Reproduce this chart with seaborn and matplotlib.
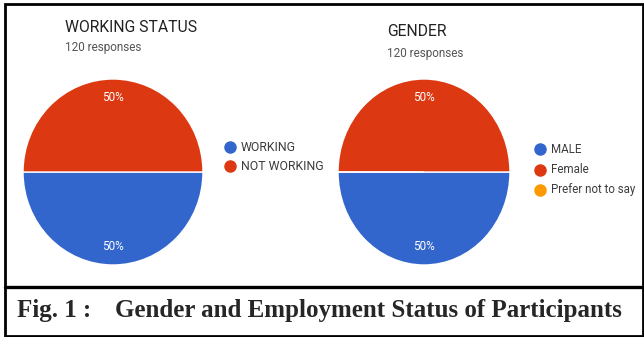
import matplotlib
matplotlib.use("Agg")
import matplotlib.pyplot as plt
from matplotlib.lines import Line2D
from matplotlib.patches import Rectangle
import seaborn as sns

# data
working_labels = ["WORKING", "NOT WORKING"]
working_values = [60, 60]
gender_labels = ["MALE", "Female", "Prefer not to say"]
gender_values = [60, 60, 0]
n_responses = 120

sns.set_style("white")
pal = sns.color_palette(["#3366CC", "#DC3912", "#FF9900"])
plt.rcParams["font.family"] = ["Roboto", "DejaVu Sans"]

W, H = 644, 337
fig = plt.figure(figsize=(W / 100, H / 100), dpi=100)


def px_axes(cx, cy, rx, ry):
    return fig.add_axes([(cx - rx) / W, 1 - (cy + ry) / H, 2 * rx / W, 2 * ry / H])


def pct(v):
    return "" if v < 0.5 else "%d%%" % round(v)


def draw_pie(cx, cy, rx, ry, values, colors):
    ax = px_axes(cx, cy, rx, ry)
    ax.pie(
        values, colors=colors, startangle=180, counterclock=True,
        autopct=pct, pctdistance=0.8, radius=1,
        wedgeprops=dict(edgecolor="white", linewidth=1),
        textprops=dict(color="white", fontsize=8.5),
    )
    ax.set_aspect("auto")
    ax.set_xlim(-1, 1)
    ax.set_ylim(-1, 1)
    ax.axis("off")
    return ax


def legend(x, y0, labels, colors, step, size):
    for i, (lab, c) in enumerate(zip(labels, colors)):
        y = y0 + i * step
        fig.add_artist(Line2D([x / W], [1 - y / H], marker="o", markersize=8,
                              color=c, linestyle="none", transform=fig.transFigure))
        fig.text((x + 11) / W, 1 - y / H, lab, fontsize=size, color="#3c3c3c",
                 va="center", ha="left")


# left chart
fig.text(65 / W, 1 - 27 / H, "WORKING STATUS", fontsize=11.3, color="#222222",
         va="center", ha="left")
fig.text(65 / W, 1 - 48 / H, "%d responses" % n_responses, fontsize=8.5,
         color="#555555", va="center", ha="left")
draw_pie(113, 172, 90, 93, working_values, pal[:2])
legend(230, 147, working_labels, pal[:2], 19, 8.8)

# right chart
fig.text(387 / W, 1 - 32 / H, "GENDER", fontsize=11.3, color="#222222",
         va="center", ha="left")
fig.text(387 / W, 1 - 54 / H, "%d responses" % n_responses, fontsize=8.5,
         color="#555555", va="center", ha="left")
draw_pie(424, 172, 86, 93, gender_values, pal[:3])
legend(540, 149, gender_labels, pal[:3], 20.5, 8.3)

# frame and caption box
fig.add_artist(Rectangle((5 / W, 1.5 / H), 638 / W, 332 / H, fill=False,
                         edgecolor="black", linewidth=2, transform=fig.transFigure))
fig.add_artist(Line2D([5 / W, 643 / W], [1 - 287 / H] * 2, color="black",
                      linewidth=2.4, transform=fig.transFigure))
fig.text(17 / W, 1 - 317 / H, "Fig. 1 :", fontsize=18, fontweight="bold",
         family="Liberation Serif", va="baseline", ha="left")
fig.text(115 / W, 1 - 317 / H, "Gender and Employment Status of Participants",
         fontsize=18, fontweight="bold", family="Liberation Serif",
         va="baseline", ha="left")

fig.savefig("out.png", dpi=100, facecolor="white")
